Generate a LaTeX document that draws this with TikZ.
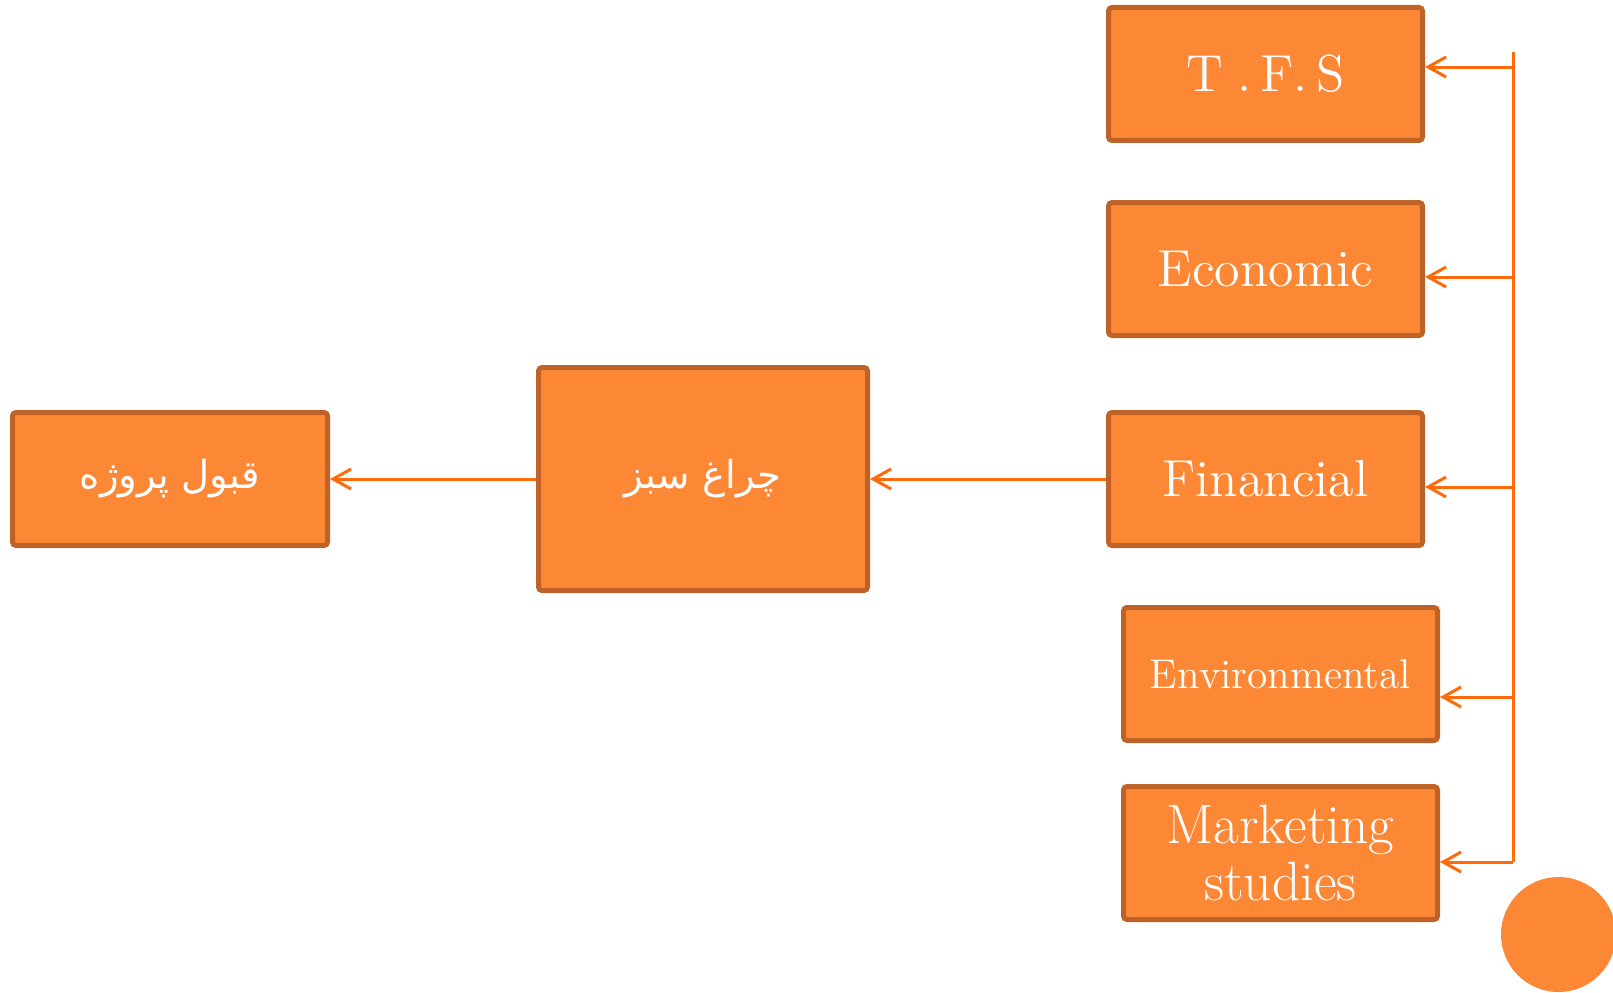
\documentclass[tikz,border=0pt]{standalone}
\usepackage{fontspec}
\usetikzlibrary{arrows.meta, positioning}
\newfontfamily\arabicfont[Script=Arabic]{DejaVu Sans}
\TeXXeTstate=1
\definecolor{boxfill}{RGB}{252,136,54}
\definecolor{boxline}{RGB}{190,98,40}
\definecolor{wire}{RGB}{255,106,10}

\begin{document}
\begin{tikzpicture}[
    every node/.style={text=white, font=\fontsize{14.8}{16}\selectfont},
    box/.style={draw=boxline, fill=boxfill, line width=0.05cm, rounded corners=1pt, align=center, minimum width=3.14cm, minimum height=1.33cm, inner sep=2pt},
    bigbox/.style={box, minimum width=3.29cm, minimum height=2.23cm},
    farsi/.style={font=\arabicfont\fontsize{11}{13}\selectfont},
    arrow/.style={draw=wire, line width=0.03cm, -{Straight Barb[length=1.8mm, width=2mm]}},
    bus/.style={draw=wire, line width=0.03cm}
]
\useasboundingbox (0,0) rectangle (16.13,-9.93);

% middle box
\node[bigbox, farsi] (green) at (7.03,-4.79) {\beginR چراغ سبز\endR};

% accepted project on the left
\node[box, farsi, left=2.06cm of green, minimum width=3.15cm] (accept) {\beginR قبول پروژه\endR};

% studies column
\node[box, right=2.36cm of green] (fin) {Financial};
\node[box, above=0.72cm of fin] (econ) {Economic};
\node[box, above=0.57cm of econ] (tfs) {T\;.\,F.\,S};
\node[box, below=0.57cm of fin, xshift=0.15cm, font=\fontsize{11.8}{13}\selectfont] (env) {Environmental};
\node[box, below=0.41cm of env, font=\fontsize{15.8}{16}\selectfont] (mkt) {Marketing\\studies};

% bus on the right
\coordinate (bustop) at (15.13,-0.52);
\coordinate (b1) at (15.13,-0.67);
\coordinate (b2) at (15.13,-2.77);
\coordinate (b3) at (15.13,-4.87);
\coordinate (b4) at (15.13,-6.97);
\coordinate (b5) at (15.13,-8.62);

% corner dot
\node[circle, fill=boxfill, minimum size=1.15cm, inner sep=0pt] (dot) at (15.585,-9.345) {};

% arrows
\draw[bus] (bustop) -- (b5);
\draw[arrow] (b1) -- (b1 -| tfs.east);
\draw[arrow] (b2) -- (b2 -| econ.east);
\draw[arrow] (b3) -- (b3 -| fin.east);
\draw[arrow] (b4) -- (b4 -| env.east);
\draw[arrow] (b5) -- (b5 -| mkt.east);

\draw[arrow] (fin) -- (green);
\draw[arrow] (green) -- (accept);

\end{tikzpicture}
\end{document}
